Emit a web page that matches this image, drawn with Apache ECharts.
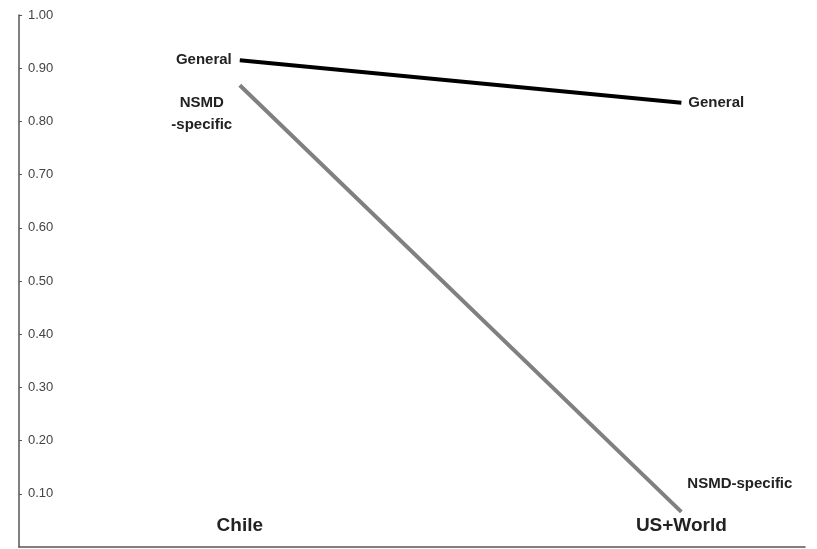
<!DOCTYPE html>
<html>
<head>
<meta charset="utf-8">
<script src="https://cdn.jsdelivr.net/npm/echarts@6/dist/echarts.min.js"></script>
<style>html,body{margin:0;padding:0;background:#fff}#c{width:817px;height:549px}</style>
</head>
<body>
<div id="c"></div>
<script>
const categories = ['Chile', 'US+World'];
const categoryPos = [1, 2];
const generalValues = [0.915, 0.835];
const nsmdValues = [0.868, 0.066];
const yTicks = [0.1, 0.2, 0.3, 0.4, 0.5, 0.6, 0.7, 0.8, 0.9, 1.0];

const chart = echarts.init(document.getElementById('c'));
const font = 'Liberation Sans, Arial, sans-serif';
const lblStyle = { fontFamily: font, fontWeight: 'bold', fontSize: 15, color: '#222' };

chart.setOption({
  animation: false,
  grid: { left: 19, right: 12, top: 15, bottom: 2 },
  xAxis: {
    type: 'value', min: 0.5, max: 2.28,
    splitLine: { show: false },
    axisLine: { show: true, lineStyle: { color: '#555', width: 1.5 } },
    axisTick: { show: false },
    axisLabel: {
      inside: true, margin: 12,
      customValues: categoryPos,
      formatter: v => categories[categoryPos.indexOf(v)] || '',
      fontFamily: font, fontWeight: 'bold', fontSize: 19, color: '#222'
    }
  },
  yAxis: {
    type: 'value', min: 0, max: 1, interval: 0.1,
    splitLine: { show: false },
    axisLine: { show: true, lineStyle: { color: '#555', width: 1.5 } },
    axisTick: { show: true, inside: true, length: 3, customValues: yTicks, lineStyle: { color: '#555' } },
    axisLabel: {
      inside: true, margin: 9,
      customValues: yTicks,
      formatter: v => v.toFixed(2),
      fontFamily: font, fontSize: 13, color: '#444'
    }
  },
  series: [
    {
      name: 'General', type: 'line', showSymbol: true, symbol: 'circle', symbolSize: 0,
      lineStyle: { color: '#000', width: 4 },
      data: [
        { value: [categoryPos[0], generalValues[0]], label: Object.assign({ show: true, position: 'left', distance: 8, formatter: 'General' }, lblStyle) },
        { value: [categoryPos[1], generalValues[1]], label: Object.assign({ show: true, position: 'right', distance: 7, formatter: 'General' }, lblStyle) }
      ]
    },
    {
      name: 'NSMD-specific', type: 'line', showSymbol: true, symbol: 'circle', symbolSize: 0,
      lineStyle: { color: '#808080', width: 4 },
      data: [
        { value: [categoryPos[0], nsmdValues[0]], label: Object.assign({}, lblStyle, { show: true, position: 'left', distance: 8, offset: [-30, 29], align: 'center', formatter: 'NSMD\n-specific', lineHeight: 22 }) },
        { value: [categoryPos[1], nsmdValues[1]], label: Object.assign({}, lblStyle, { show: true, position: 'right', distance: 6, offset: [0, -28], formatter: 'NSMD-specific' }) }
      ]
    }
  ]
});
</script>
</body>
</html>
